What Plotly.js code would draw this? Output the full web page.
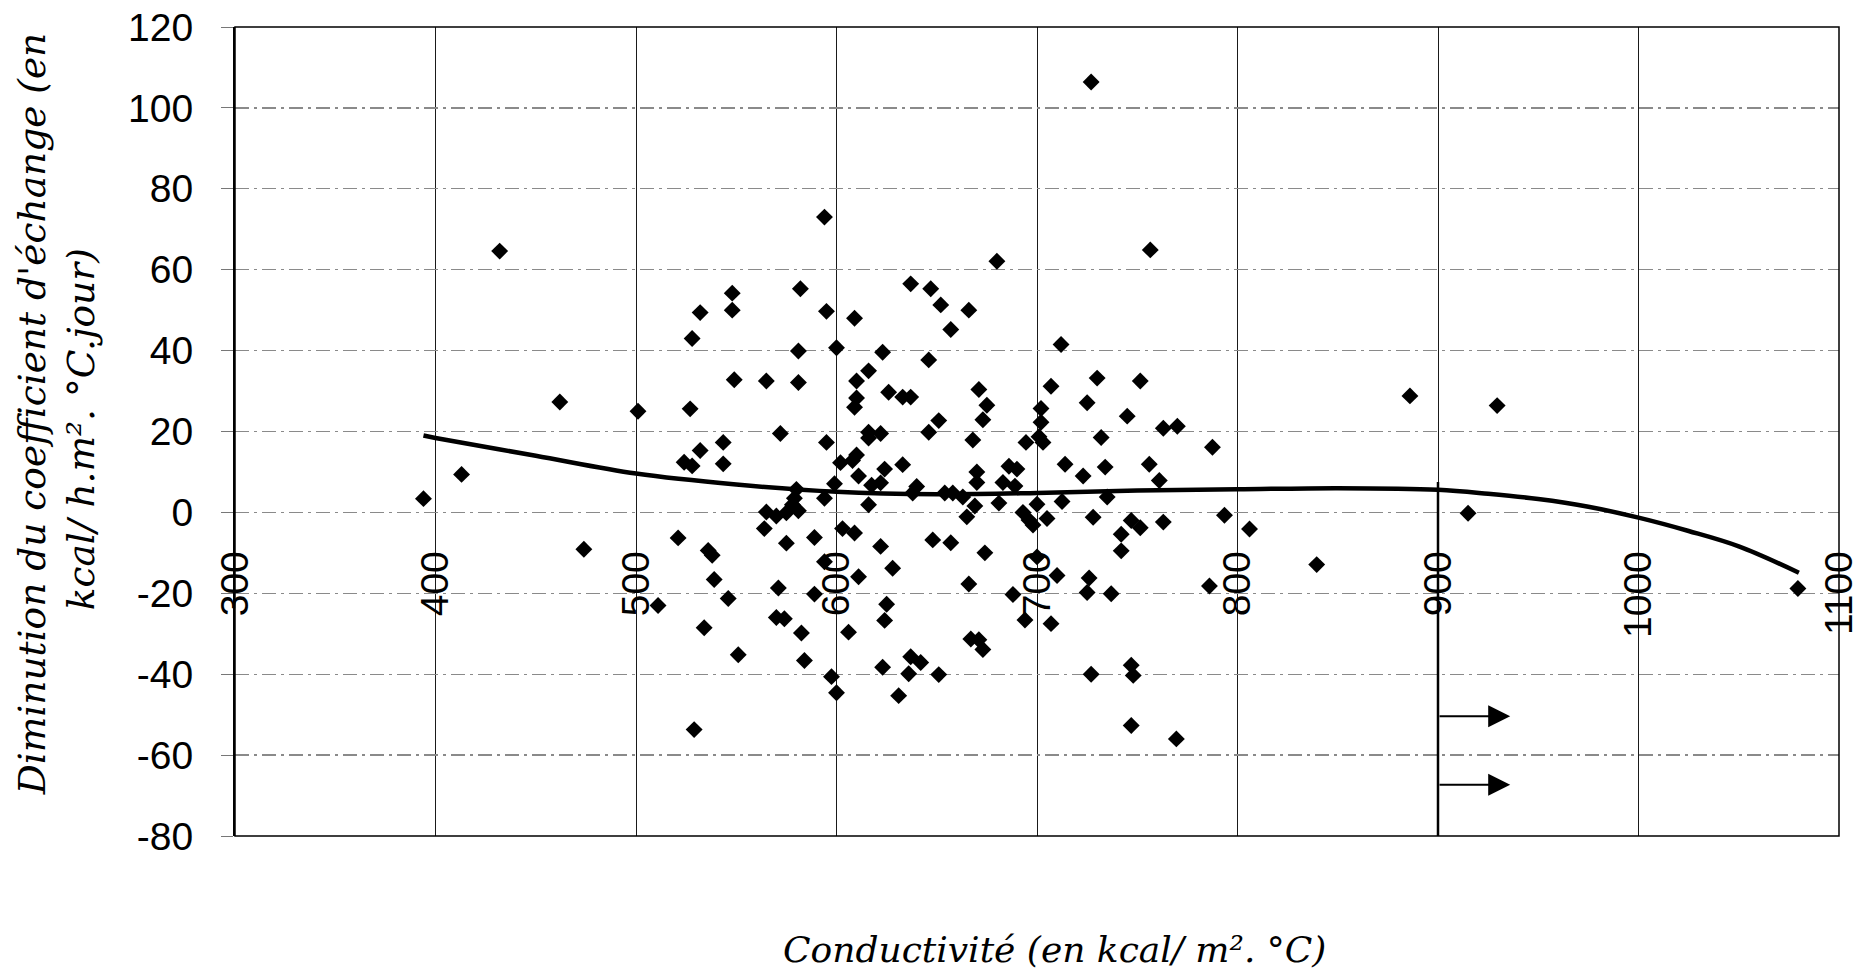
<!DOCTYPE html>
<html>
<head>
<meta charset="utf-8">
<script src="https://cdn.plot.ly/plotly-3.0.1.min.js"></script>
<style>
  html, body { margin: 0; padding: 0; background: #ffffff; }
  #chart { width: 1871px; height: 973px; }
</style>
</head>
<body>
<div id="chart"></div>
<script>
// Conductivité (kcal/m².°C) of each measured sample
const conductivite = [
  432, 532, 528, 462, 501, 527, 532, 524, 528, 413, 394, 521, 536, 474, 539, 511, 534, 529,
  594, 548, 548, 582, 595, 609, 637, 647, 652, 657, 581, 600, 623, 646, 549, 565, 581, 610,
  616, 610, 609, 626, 633, 637, 651, 646, 572, 543.5, 543.5, 595, 616, 622, 616, 602, 610, 608,
  611, 624, 633, 617.5, 622, 599, 640, 638, 654, 658, 580, 579, 594, 578, 616, 565, 570, 575,
  581, 564, 575, 589, 603, 609, 622, 648, 657, 538, 628, 594, 611, 571, 546, 589, 625, 624,
  570, 574, 582.5, 606, 551, 584, 623, 637, 642, 636, 651, 597.5, 600, 631,
  680, 756.5, 666, 712, 671, 675, 673, 668, 707, 730, 751.5, 725, 745, 702, 702, 694.5, 703, 701,
  732, 763, 770, 714, 734, 756, 723, 761, 670, 670, 686, 690, 683, 689, 663, 681, 669, 700,
  712.5, 735, 665, 693, 696, 698, 705, 728, 747, 751.5, 763, 742, 742, 674, 700, 710, 726, 725,
  737, 666, 688, 694, 707, 667, 673, 671, 727, 747, 748, 747, 769.5, 727,
  886, 929.5, 787.5, 793.5, 806, 915, 839.5, 786, 1079.5
];

// Diminution du coefficient d'échange (kcal/h.m².°C.jour) for the same samples
const diminution = [
  64.6, 49.4, 43, 27.3, 25, 25.6, 15.3, 12.4, 11.5, 9.4, 3.4, -6.3, -9.4, -9.1, -16.6, -23, -28.5, -53.7,
  73, 54.2, 50, 55.3, 49.7, 48, 56.5, 55.3, 51.3, 45.2, 39.9, 40.7, 39.6, 37.7, 32.8, 32.5, 32.1, 32.5,
  35, 28.3, 26, 29.7, 28.5, 28.5, 22.7, 19.8, 19.5, 17.3, 12, 17.3, 19.8, 19.5, 18.4, 12.3, 14.2, 12.8,
  9, 10.7, 11.8, 6.7, 7.3, 7.1, 6.4, 4.8, 4.8, 4.8, 5.7, 3.5, 3.5, 1.9, 1.9, 0.1, -0.9, -0.1,
  0.4, -4, -7.6, -6.2, -4, -5.1, -8.4, -6.8, -7.5, -10.6, -13.8, -12.2, -15.9, -18.7, -21.3, -20.2, -22.7, -26.7,
  -26, -26.3, -29.8, -29.6, -35.2, -36.6, -38.3, -35.7, -37.1, -39.9, -40.1, -40.6, -44.6, -45.3,
  62.1, 64.9, 50, 41.5, 30.4, 26.5, 22.9, 17.9, 31.2, 33.2, 32.5, 27.1, 23.8, 25.7, 22.3, 17.3, 17.3, 18.7,
  18.5, 20.8, 21.3, 11.9, 11.2, 11.9, 9, 7.9, 10, 7.4, 11.4, 10.7, 7.4, 6.5, 3.8, 2.3, 1.6, 2,
  2.7, 3.8, -1.1, 0, -1.9, -3.1, -1.5, -1.2, -2, -3.8, -2.4, -5.4, -9.5, -10, -11, -15.6, -16.2, -19.8,
  -20.1, -17.7, -20.3, -26.6, -27.5, -31.3, -33.9, -31.5, -40, -37.8, -40.3, -52.7, -56, 106.4,
  28.8, 26.4, 16.1, -0.7, -4.1, -0.2, -12.9, -18.2, -18.8
];

// Fitted trend curve, read along its length
const tendanceX = [394, 400, 450, 500, 550, 600, 650, 700, 750, 800, 850, 900, 925, 950, 975, 1000, 1025, 1050, 1080];
const tendanceY = [19.0, 18.4, 14.0, 9.6, 6.9, 5.1, 4.5, 4.8, 5.4, 5.7, 6.0, 5.6, 4.6, 3.3, 1.4, -1.3, -4.6, -8.4, -14.9];

// Axis ticks
const xTicks = [300, 400, 500, 600, 700, 800, 900, 1000, 1100];
const yTicks = [-80, -60, -40, -20, 0, 20, 40, 60, 80, 100, 120];

// Threshold marker at 900 and the two arrows leaving it
const seuil = 900;
const seuilHaut = 7.5;
const flecheY = [-50.4, -67.3];
const flecheFin = 936;

const tickFont = { family: 'Liberation Sans, Arial, sans-serif', size: 39, color: '#000000' };
const yTitleFont = { family: 'DejaVu Serif, serif', size: 37.5, color: '#000000' };
const xTitleFont = { family: 'DejaVu Serif, serif', size: 36, color: '#000000' };

const traces = [
  {
    type: 'scatter',
    mode: 'markers',
    x: conductivite,
    y: diminution,
    marker: { symbol: 'diamond', size: 13, color: '#000000', line: { width: 0 } },
    hoverinfo: 'x+y'
  },
  {
    type: 'scatter',
    mode: 'lines',
    x: tendanceX,
    y: tendanceY,
    line: { color: '#000000', width: 4.5, shape: 'spline', smoothing: 1 },
    hoverinfo: 'skip'
  }
];

const annotations = [
  {
    xref: 'paper', yref: 'paper', x: -0.1265, y: 0.5213,
    text: "<i>Diminution du coefficient d'échange (en</i>",
    textangle: -90, showarrow: false, xanchor: 'center', yanchor: 'middle',
    font: yTitleFont
  },
  {
    xref: 'paper', yref: 'paper', x: -0.0960, y: 0.5028,
    text: '<i>kcal/ h.m². °C.jour)</i>',
    textangle: -90, showarrow: false, xanchor: 'center', yanchor: 'middle',
    font: yTitleFont
  },
  {
    xref: 'paper', yref: 'paper', x: 0.5106, y: -0.14,
    text: '<i>Conductivité (en kcal/ m². °C)</i>',
    showarrow: false, xanchor: 'center', yanchor: 'middle',
    font: xTitleFont
  }
];

flecheY.forEach(function (yv) {
  annotations.push({
    xref: 'x', yref: 'y', axref: 'x', ayref: 'y',
    x: flecheFin, y: yv, ax: seuil, ay: yv,
    text: '', showarrow: true,
    arrowhead: 2, arrowsize: 2.2, arrowwidth: 2, arrowcolor: '#000000', standoff: 0
  });
});

const layout = {
  width: 1871,
  height: 973,
  margin: { l: 235, r: 32, t: 27, b: 137 },
  paper_bgcolor: '#ffffff',
  plot_bgcolor: '#ffffff',
  showlegend: false,
  xaxis: {
    range: [300, 1100],
    tickvals: xTicks,
    ticktext: xTicks.map(String),
    tickangle: -90,
    tickfont: tickFont,
    ticks: '',
    ticklabelstandoff: 30,
    showgrid: true,
    gridcolor: '#1a1a1a',
    gridwidth: 1,
    zeroline: false,
    showline: false,
    anchor: 'free',
    position: 0.4
  },
  yaxis: {
    range: [-80, 120],
    tickvals: yTicks,
    ticktext: yTicks.map(String),
    tickfont: tickFont,
    ticks: 'outside',
    ticklen: 12,
    tickwidth: 1,
    tickcolor: '#777777',
    ticklabelstandoff: 20,
    showgrid: true,
    gridcolor: '#8a8a8a',
    gridwidth: 1.2,
    griddash: '14px,5px,3px,5px',
    zeroline: false,
    showline: true,
    linecolor: '#000000',
    linewidth: 2
  },
  shapes: [
    {
      type: 'rect', xref: 'paper', yref: 'paper', x0: 0, x1: 1, y0: 0, y1: 1,
      line: { color: '#000000', width: 1.5 }, fillcolor: 'rgba(0,0,0,0)', layer: 'above'
    },
    {
      type: 'line', xref: 'x', yref: 'y', x0: seuil, x1: seuil, y0: -80, y1: seuilHaut,
      line: { color: '#000000', width: 2.5 }, layer: 'above'
    }
  ],
  annotations: annotations
};

Plotly.newPlot('chart', traces, layout, { displayModeBar: false, staticPlot: true });
</script>
</body>
</html>
